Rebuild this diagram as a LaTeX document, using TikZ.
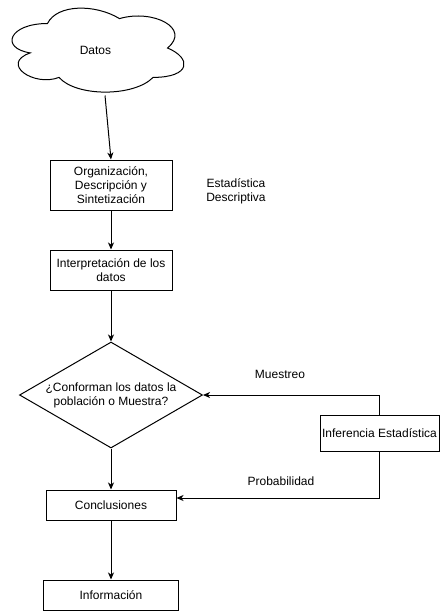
\documentclass[tikz,border=0pt]{standalone}
\usepackage{fontspec}
\setmainfont{Liberation Sans}
\usetikzlibrary{arrows.meta,shapes.geometric}

\begin{document}
\begin{tikzpicture}[x=1pt, y=-1pt,
  every node/.style={font=\fontsize{12}{13.8}\selectfont, align=center, inner sep=0pt},
  box/.style={draw, line width=1pt, fill=white},
  decision/.style={draw, diamond, line width=1pt, fill=white},
  flow/.style={line width=1pt, -{Stealth[length=7pt, width=6pt, inset=2pt]}},
  note/.style={}
]
\useasboundingbox (0,0) rectangle (441,611);
\fill[white] (0,0) rectangle (441,611);

% data cloud
\begin{scope}[xshift=-0.5pt, yshift=1pt, x=192pt, y=-98pt]
  \draw[line width=1pt, fill=white]
    (0.25,0.25) .. controls (0.05,0.25) and (0,0.5) .. (0.16,0.55)
    .. controls (0,0.66) and (0.18,0.9) .. (0.31,0.8)
    .. controls (0.4,1) and (0.7,1) .. (0.8,0.8)
    .. controls (1,0.8) and (1,0.6) .. (0.875,0.5)
    .. controls (1,0.3) and (0.8,0.1) .. (0.625,0.2)
    .. controls (0.5,0.05) and (0.3,0.05) .. (0.25,0.25) -- cycle;
\end{scope}
\node (datos) at (95.5,50) {Datos};
\coordinate (cloudfoot) at (105,95.5);

% main flow
\node[box, minimum width=122pt, minimum height=50pt] (org) at (111,185)
  {Organización,\\Descripción y\\Sintetización};
\node[note] (desc) at (236,191) {Estadística\\Descriptiva};
\node[box, minimum width=122pt, minimum height=40pt] (interp) at (111,270)
  {Interpretación de los\\datos};
\node[decision, minimum width=183pt, minimum height=106pt, aspect=1.73] (dec) at (111,395)
  {¿Conforman los datos la\\población o Muestra?};
\node[box, minimum width=130pt, minimum height=30pt] (concl) at (111,505) {Conclusiones};
\node[box, minimum width=135pt, minimum height=30pt] (info) at (111,595) {Información};

% inference side branch
\node[box, minimum width=119pt, minimum height=36pt] (inf) at (379.5,433) {Inferencia Estadística};
\node[note] (muestreo) at (280,374) {Muestreo};
\node[note] (prob) at (281,481) {Probabilidad};

% connectors
\draw[flow] (cloudfoot) -- (org.north);
\draw[flow] (org.south) -- (interp.north);
\draw[flow] (interp.south) -- (dec.north);
\draw[flow] (dec.south) -- (concl.north);
\draw[flow] (concl.south) -- (info.north);
\draw[flow] (inf.north) |- (dec.east);
\draw[flow] (inf.south) |- ([yshift=7pt]concl.east);
\end{tikzpicture}
\end{document}
